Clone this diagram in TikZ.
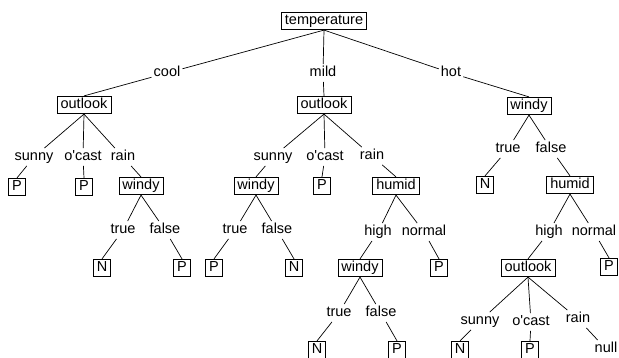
\documentclass[tikz,border=0pt]{standalone}
\usepackage{fontspec}
\setmainfont{Liberation Sans}
\newfontfamily\lsans{Liberation Sans}
\begin{document}
\begin{tikzpicture}[x=1pt,y=-1pt,
 base/.style={font=\lsans\fontsize{14.5}{17}\selectfont, text height=10.5pt, text depth=3pt},
 box/.style={base, draw, line width=0.7pt, inner xsep=3.5pt, inner ysep=2pt},
 lab/.style={base, inner sep=2pt},
 edge/.style={line width=0.7pt}]
\clip (0,0) rectangle (619,358);
\useasboundingbox (0,0) rectangle (619,358);
% level 0
\node[box] (T) at (324,21) {temperature};
% level 1
\node[lab] (Lcool) at (167,73) {cool};
\node[lab] (Lmild) at (323,73) {mild};
\node[lab] (Lhot) at (451,73) {hot};
\node[box] (O1) at (84,105) {outlook};
\node[box] (O2) at (324,105) {outlook};
\node[box] (W1) at (529,106) {windy};
% under O1
\node[lab] (Ls1) at (34,157) {sunny};
\node[lab] (Lo1) at (83,157) {o'cast};
\node[lab] (Lr1) at (123,157) {rain};
\node[box] (P1) at (17,187) {P};
\node[box] (P2) at (84,187) {P};
\node[box] (W2) at (141,186) {windy};
\node[lab] (Lt1) at (123,230) {true};
\node[lab] (Lf1) at (165,230) {false};
\node[box] (N1) at (102,268) {N};
\node[box] (P3) at (182,268) {P};
% under O2
\node[lab] (Ls2) at (273,157) {sunny};
\node[lab] (Lo2) at (325,157) {o'cast};
\node[lab] (Lr2) at (372,156) {rain};
\node[box] (W3) at (256,186) {windy};
\node[box] (P4) at (322,186) {P};
\node[box] (H1) at (396,186) {humid};
\node[lab] (Lt2) at (235,230) {true};
\node[lab] (Lf2) at (277,230) {false};
\node[box] (P5) at (214,268) {P};
\node[box] (N2) at (294,268) {N};
\node[lab] (Lh1) at (378,232) {high};
\node[lab] (Ln1) at (424,232) {normal};
\node[box] (W4) at (360,268) {windy};
\node[box] (P6) at (439,268) {P};
\node[lab] (Lt3) at (339,313) {true};
\node[lab] (Lf3) at (381,313) {false};
\node[box] (N3) at (317,350) {N};
\node[box] (P7) at (397,350) {P};
% under W1
\node[lab] (Lt4) at (508,149) {true};
\node[lab] (Lf4) at (551,149) {false};
\node[box] (N4) at (485,185) {N};
\node[box] (H2) at (570,185) {humid};
\node[lab] (Lh2) at (549,232) {high};
\node[lab] (Ln2) at (594,232) {normal};
\node[box] (O3) at (528,268) {outlook};
\node[box] (P8) at (609,267) {P};
\node[lab] (Ls3) at (480,321) {sunny};
\node[lab] (Lo3) at (531,322) {o'cast};
\node[lab] (Lr3) at (578,319) {rain};
\node[box] (N5) at (460,350) {N};
\node[box] (P9) at (530,350) {P};
\node[lab] (Null) at (606,349) {null};
% edges
\foreach \p/\l/\c in {T/Lcool/O1, T/Lmild/O2, T/Lhot/W1,
  O1/Ls1/P1, O1/Lo1/P2, O1/Lr1/W2, W2/Lt1/N1, W2/Lf1/P3,
  O2/Ls2/W3, O2/Lo2/P4, O2/Lr2/H1, W3/Lt2/P5, W3/Lf2/N2,
  H1/Lh1/W4, H1/Ln1/P6, W4/Lt3/N3, W4/Lf3/P7,
  W1/Lt4/N4, W1/Lf4/H2, H2/Lh2/O3, H2/Ln2/P8,
  O3/Ls3/N5, O3/Lo3/P9}
  {\draw[edge] (\p.south) -- (\l); \draw[edge] (\l) -- (\c.north);}
\draw[edge] (O3.south) -- (Lr3);
\draw[edge] (Lr3) -- (Null);
\end{tikzpicture}
\end{document}
